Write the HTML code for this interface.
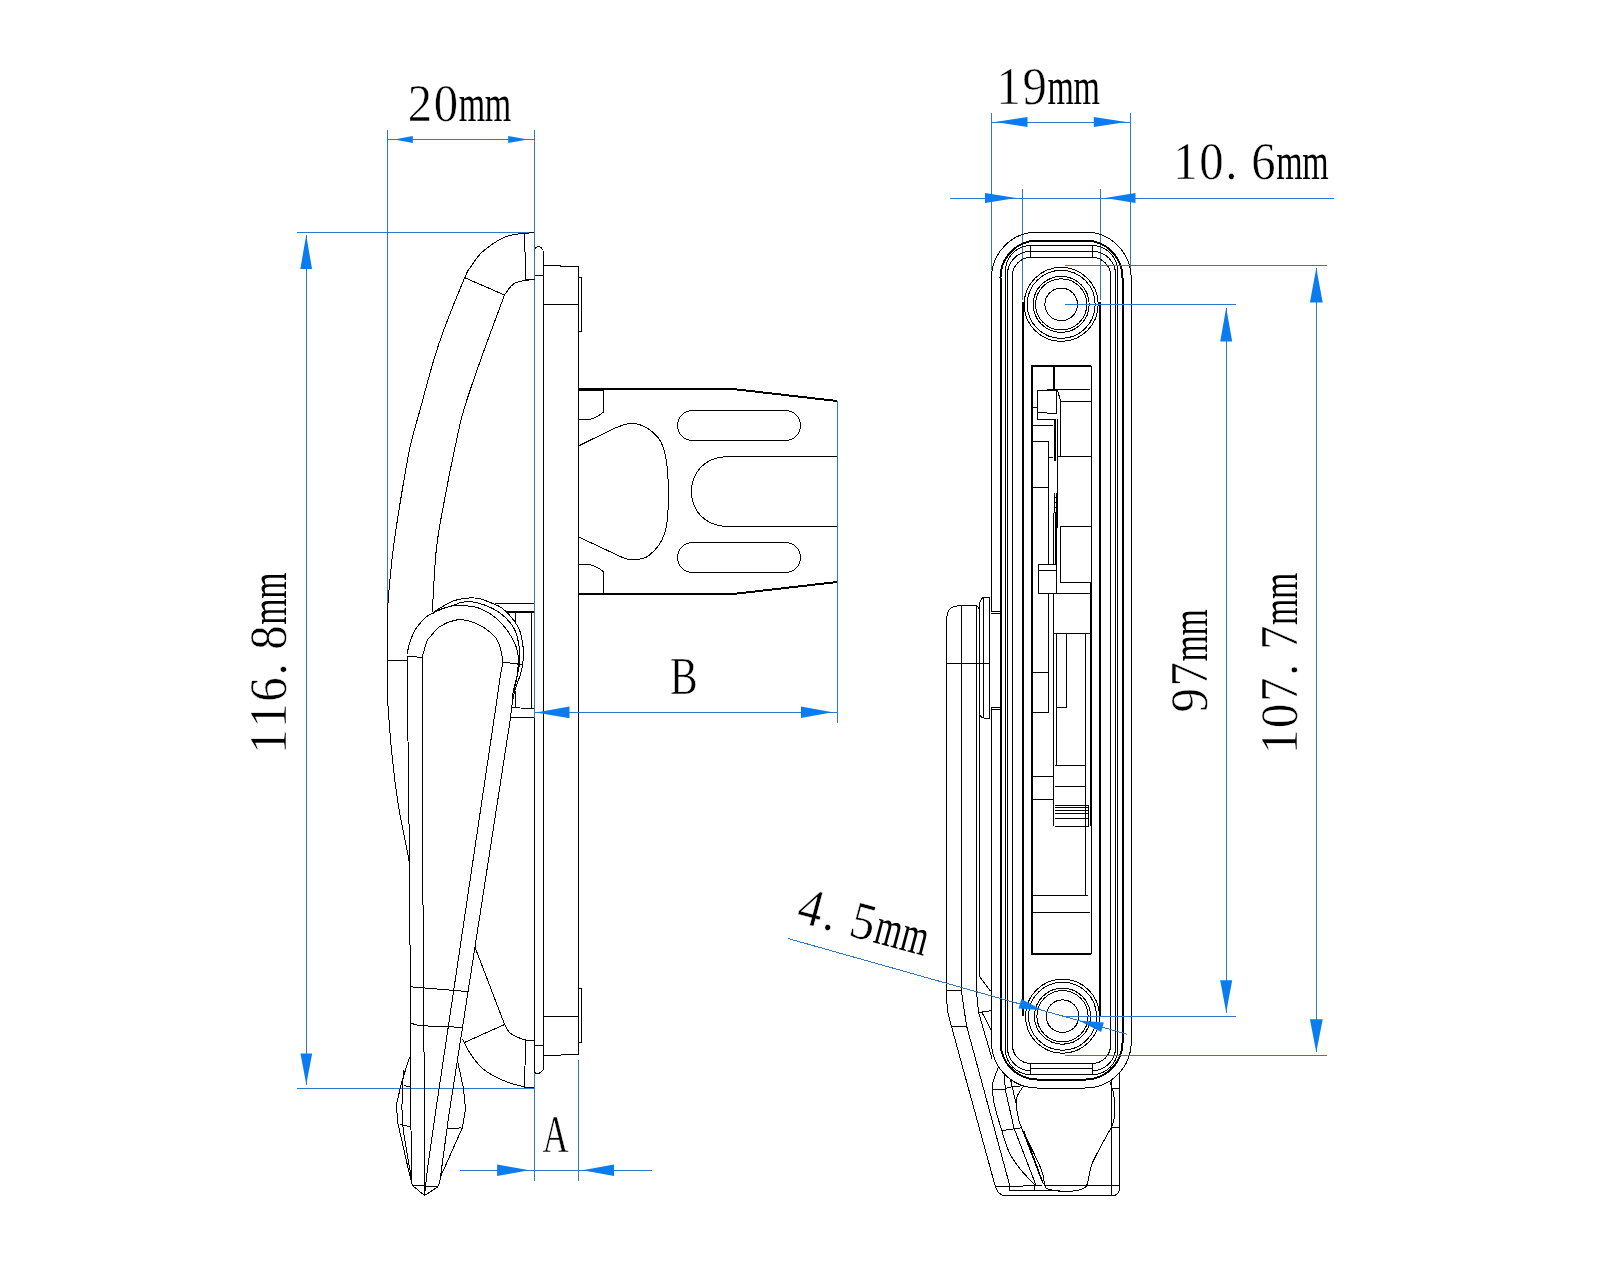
<!DOCTYPE html>
<html><head><meta charset="utf-8"><style>
html,body{margin:0;padding:0;background:#fff;width:1600px;height:1280px;overflow:hidden}
svg{display:block;will-change:transform}
.k,.kt,.b{shape-rendering:crispEdges}
.k{stroke:#000;stroke-width:1;fill:none}
.kt{stroke:#000;stroke-width:2;fill:none}
.b{stroke:#2b78cc;stroke-width:1;fill:none}
.af{fill:#0a7cf0;stroke:none}
text{font-family:"Liberation Serif",serif;font-size:53px;fill:#000;text-anchor:middle;stroke:#fff;stroke-width:0.5}
text.m{stroke-width:0}
</style></head><body>
<svg width="1600" height="1280" viewBox="0 0 1600 1280">
<line class="b" x1="387.5" y1="130" x2="387.5" y2="656"/>
<line class="b" x1="534.5" y1="130" x2="534.5" y2="718"/>
<line class="k" x1="534.5" y1="718" x2="534.5" y2="1072"/>
<line class="b" x1="534.5" y1="1072" x2="534.5" y2="1181"/>
<line class="b" x1="387.5" y1="139.5" x2="534.5" y2="139.5"/>
<polygon class="af" points="394,139.5 412.8,136.1 412.8,142.9"/>
<polygon class="af" points="528,139.5 508.2,142.9 508.2,136.1"/>
<g>
<text transform="translate(419.9,121) scale(0.92,1)">2</text>
<text transform="translate(445.9,121) scale(0.92,1)">0</text>
<text class="m" transform="translate(471.9,121) scale(0.64,1)">m</text>
<text class="m" transform="translate(497.9,121) scale(0.64,1)">m</text>
</g>
<line class="b" x1="297" y1="232.5" x2="534.5" y2="232.5"/>
<line class="b" x1="297" y1="1088.5" x2="534.5" y2="1088.5"/>
<line class="b" x1="306.5" y1="235" x2="306.5" y2="1084.5"/>
<polygon class="af" points="306.2,235.1 312.05,268.9 300.35,268.9"/>
<polygon class="af" points="306.3,1084.5 300.45,1053.5 312.15,1053.5"/>
<g transform="rotate(-90)">
<text transform="translate(-741.5,286) scale(0.92,1)">1</text>
<text transform="translate(-715.5,286) scale(0.92,1)">1</text>
<text transform="translate(-689.5,286) scale(0.92,1)">6</text>
<text transform="translate(-669.5,286) scale(0.92,1)">.</text>
<text transform="translate(-637.5,286) scale(0.92,1)">8</text>
<text class="m" transform="translate(-611.5,286) scale(0.64,1)">m</text>
<text class="m" transform="translate(-585.5,286) scale(0.64,1)">m</text>
</g>
<path class="k" d="M524.7,233.2 C521.33,233.88 511.62,234.07 504.5,237.25 C497.38,240.43 487.75,247.12 482,252.25 C476.25,257.38 472.88,263.76 470,268 C467.12,272.24 468.95,267.7 464.7,277.7 C460.45,287.7 449.66,314.28 444.5,328 C439.34,341.72 437.83,346.33 433.75,360 C429.67,373.67 423.96,395.42 420,410 C416.04,424.58 413.23,432.5 410,447.5 C406.77,462.5 403.38,483.12 400.6,500 C397.82,516.88 395.33,532.5 393.3,548.75 C391.27,565 389.35,585.86 388.4,597.5 C387.45,609.14 387.75,608.85 387.6,618.6 C387.45,628.35 387.5,642.43 387.5,656 C387.5,669.57 387.58,692.67 387.6,700"/>
<path class="k" d="M387.6,700 C388.25,708.33 389.85,733.33 391.5,750 C393.15,766.67 395.5,786.33 397.5,800 C399.5,813.67 401.48,821.4 403.5,832 C405.52,842.6 408.58,858.33 409.6,863.6"/>
<polyline class="k" points="524.5,233.5 534.5,232.5"/>
<line class="k" x1="524.7" y1="233.2" x2="525.5" y2="280"/>
<line class="k" x1="525.5" y1="280" x2="534.5" y2="279.3"/>
<path class="k" d="M534.5,279.3 C531.25,279.92 520,280.38 515,283 C510,285.62 506.25,293 504.5,295"/>
<path class="k" d="M504.5,295 C500.52,305.83 487.39,340.83 480.6,360 C473.81,379.17 468.02,395.42 463.75,410 C459.48,424.58 458.21,432.5 455,447.5 C451.79,462.5 447.6,483.12 444.5,500 C441.4,516.88 438.43,530.08 436.4,548.75 C434.37,567.42 432.98,601.46 432.3,612"/>
<line class="k" x1="464.7" y1="277.7" x2="504.5" y2="295"/>
<path class="k" d="M534.4,249.4 Q538.75,243 543.3,250.6"/>
<line class="k" x1="543.5" y1="250.6" x2="543.5" y2="1070"/>
<path class="k" d="M534.3,1072 Q538,1076 543.3,1070"/>
<line class="k" x1="534.5" y1="275.5" x2="543.5" y2="275.5"/>
<line class="k" x1="534.3" y1="1045.5" x2="543.3" y2="1045.5"/>
<polyline class="k" points="543.5,265.5 560.5,265.5 560.5,266.5 578.5,266.5 578.5,1054.5 543.5,1055.5"/>
<line class="k" x1="543.5" y1="304.5" x2="578.5" y2="304.5"/>
<line class="k" x1="543.5" y1="1016.5" x2="578.7" y2="1016.5"/>
<polyline class="k" points="578.5,277.5 581.5,277.5 581.5,331.5 578.5,331.5"/>
<polyline class="k" points="578.5,988.5 581.5,988.5 581.5,1042.5 578.5,1042.5"/>
<polyline class="kt" points="578,389 733,389 837,401"/>
<polyline class="kt" points="578,594 733,594 837,582"/>
<path class="k" d="M578.4,390.6 L603.4,390.6 L603.4,412.2 Q597,417.5 588.75,419.7 L578.4,419.7"/>
<path class="k" d="M578.4,564.4 L588.75,564.4 Q597,566.5 603.4,571.6 L603.4,593.7"/>
<line class="k" x1="578.4" y1="446" x2="615" y2="428"/>
<path class="k" d="M615,428 C617.82,427.23 626.07,423.07 631.9,423.4 C637.73,423.73 644.69,425.77 650,430 C655.31,434.23 660.68,438.5 663.75,448.75 C666.82,459 668.24,477.44 668.4,491.5 C668.56,505.56 667.98,522.42 664.7,533.1 C661.43,543.78 654.53,551.2 648.75,555.6 C642.97,560 635.62,559.77 630,559.5 C624.38,559.23 617.5,554.92 615,554"/>
<line class="k" x1="615" y1="554" x2="578.4" y2="536.9"/>
<rect class="k" x="677.5" y="410.5" width="123" height="30" rx="15" ry="15"/>
<rect class="k" x="677.5" y="542.5" width="123" height="30" rx="15" ry="15"/>
<path class="k" d="M837.2,456.6 L725.6,456.6 C703,458 691.5,474 691.5,491.5 C691.5,509 703,525 725.6,526.6 L837.2,526.6"/>
<line class="b" x1="837.5" y1="400.9" x2="837.5" y2="722.5"/>
<line class="b" x1="535" y1="712.5" x2="837.3" y2="712.5"/>
<polygon class="af" points="536,712.4 569.5,706.6 569.5,718.2"/>
<polygon class="af" points="832.5,712.3 801,718.1 801,706.5"/>
<g>
<text transform="translate(683.8,693.9) scale(0.78,1)">B</text>
</g>
<line class="b" x1="460" y1="1170.5" x2="651.8" y2="1170.5"/>
<line class="b" x1="578.5" y1="1059.6" x2="578.5" y2="1181"/>
<polygon class="af" points="529.4,1170.3 497.1,1176 497.1,1164.6"/>
<polygon class="af" points="582.4,1170.3 614,1164.6 614,1176"/>
<g>
<text transform="translate(555.6,1151.8) scale(0.68,1)">A</text>
</g>
<path class="k" d="M407,654 C407.5,652 408.67,646 410,642 C411.33,638 412.5,634 415,630 C417.5,626 422.17,620.75 425,618 C427.83,615.25 429.92,614.9 432,613.5 C434.08,612.1 434.18,611.6 437.5,609.6 C440.82,607.6 447.42,603.37 451.9,601.5 C456.38,599.63 460.03,598.92 464.4,598.4 C468.77,597.88 473.42,597.57 478.1,598.4 C482.78,599.23 488.43,601.73 492.5,603.4 C496.57,605.07 498.96,605.59 502.5,608.4 C506.04,611.21 510.83,616.4 513.75,620.25 C516.67,624.1 518.44,627.02 520,631.5 C521.56,635.98 522.53,642.93 523.1,647.1 C523.67,651.27 523.5,653.58 523.4,656.5 C523.3,659.42 522.97,661.68 522.5,664.6 C522.03,667.52 521.85,669.77 520.6,674 C519.35,678.23 516.43,684.83 515,690 C513.57,695.17 512.75,700.33 512,705 C511.25,709.67 510.75,715.83 510.5,718"/>
<line class="k" x1="510.5" y1="718" x2="486" y2="876"/>
<line class="k" x1="486" y1="876" x2="448.75" y2="1116"/>
<line class="k" x1="448.75" y1="1116" x2="440.6" y2="1176"/>
<path class="k" d="M432,614 C433,613.43 433.96,612.22 438,610.6 C442.04,608.98 452.17,605.72 456.25,604.3 C460.33,602.88 459.27,602.42 462.5,602.1 C465.73,601.78 470.6,601.35 475.6,602.4 C480.6,603.45 487.6,605.95 492.5,608.4 C497.4,610.85 501.35,613.67 505,617.1 C508.65,620.53 512.11,624.52 514.4,629 C516.69,633.48 517.82,639.1 518.75,644 C519.68,648.9 520,654.23 520,658.4 C520,662.57 519.75,664.07 518.75,669 C517.75,673.93 515.12,682.83 514,688 C512.88,693.17 512.33,698 512,700"/>
<path class="k" d="M440,609.5 C442.08,608.9 447.92,606.5 452.5,605.9 C457.08,605.3 462.71,605.38 467.5,605.9 C472.29,606.42 476.57,607.02 481.25,609 C485.93,610.98 491.12,614 495.6,617.75 C500.08,621.5 504.66,626.62 508.1,631.5 C511.54,636.38 514.58,642.83 516.25,647 C517.92,651.17 517.89,652 518.1,656.5 C518.31,661 518.18,668.42 517.5,674 C516.82,679.58 514.58,687.33 514,690"/>
<path class="k" d="M422.5,656 C423.25,653.5 425.75,644.17 427,641 C428.25,637.83 427.83,639.42 430,637 C432.17,634.58 435.83,629.29 440,626.5 C444.17,623.71 450.42,621.23 455,620.25 C459.58,619.27 462.82,619.46 467.5,620.6 C472.18,621.74 478.42,624.24 483.1,627.1 C487.78,629.96 492.68,634.1 495.6,637.75 C498.52,641.4 499.45,644.83 500.6,649 C501.75,653.17 502.5,658.58 502.5,662.75 C502.5,666.92 501.53,667.79 500.6,674 C499.67,680.21 497.52,695.67 496.9,700"/>
<line class="k" x1="496.9" y1="700" x2="435" y2="1116"/>
<line class="k" x1="435" y1="1116" x2="427.5" y2="1168.8"/>
<line class="k" x1="427.5" y1="1168.8" x2="424.5" y2="1195"/>
<line class="k" x1="407" y1="656" x2="422.5" y2="657.5"/>
<line class="k" x1="387.5" y1="660.5" x2="406.5" y2="660.5"/>
<line class="k" x1="502.5" y1="662" x2="521.9" y2="664.6"/>
<path class="k" d="M407,654 C407.08,661.67 407.07,663 407.5,700 C407.93,737 409.14,828.33 409.6,876 C410.06,923.67 410.13,955.83 410.25,986 C410.37,1016.17 410.29,1045.17 410.3,1057"/>
<line class="k" x1="422.5" y1="656" x2="422.5" y2="905"/>
<line class="k" x1="423.5" y1="905" x2="424.5" y2="1195"/>
<line class="k" x1="410.25" y1="986.75" x2="468" y2="991.6"/>
<path class="k" d="M411,1023.2 C412.5,1023.58 415.17,1024.95 420,1025.5 C424.83,1026.05 432.92,1026.2 440,1026.5 C447.08,1026.8 458.75,1027.17 462.5,1027.3"/>
<polyline class="k" points="409.5,1057.5 401.5,1082.5 396.5,1104.5 397.5,1121.5 409.5,1174.5 412.5,1185.5 424.5,1195.5 438.5,1186.5 441.5,1174.5 462.5,1127.5 465.5,1108.5 463.5,1088.5 457.5,1060.5"/>
<path class="k" d="M404,1070 C403.77,1072.6 402.83,1076.67 402.6,1085.6 C402.37,1094.53 401.2,1108.53 402.6,1123.6 C404,1138.67 409.6,1167.27 411,1176"/>
<line class="k" x1="410.3" y1="1057" x2="411.5" y2="1180.6"/>
<line class="k" x1="399.6" y1="1124.2" x2="411.5" y2="1127.2"/>
<line class="k" x1="447.7" y1="1129" x2="460.8" y2="1127.8"/>
<line class="k" x1="412" y1="1185.4" x2="438.2" y2="1186.6"/>
<line class="k" x1="404" y1="1085.5" x2="411" y2="1087"/>
<line class="k" x1="474.9" y1="947" x2="504.4" y2="1023.9"/>
<path class="k" d="M504.4,1023.9 C505.43,1025.5 507.27,1030.87 510.6,1033.5 C513.93,1036.13 520.5,1038.45 524.4,1039.7 C528.3,1040.95 532.4,1040.78 534,1041"/>
<line class="k" x1="464.6" y1="1042.4" x2="504.4" y2="1024.6"/>
<path class="k" d="M462.5,1039 C463.75,1041.33 466.79,1048.18 470,1053 C473.21,1057.82 477.27,1063.82 481.75,1067.9 C486.23,1071.98 492.19,1074.98 496.9,1077.5 C501.61,1080.02 505.42,1081.42 510,1083 C514.58,1084.58 522,1086.33 524.4,1087"/>
<line class="k" x1="525.75" y1="1040.4" x2="524.4" y2="1087"/>
<line class="k" x1="524.4" y1="1087" x2="534" y2="1088"/>
<line class="k" x1="495" y1="603.5" x2="534.4" y2="603.5"/>
<line class="k" x1="502.5" y1="608.4" x2="506.25" y2="612.4"/>
<line class="kt" x1="506.25" y1="612" x2="534.4" y2="612"/>
<line class="k" x1="515.5" y1="613" x2="515.5" y2="621.5"/>
<line class="k" x1="515.5" y1="690.5" x2="515.5" y2="707"/>
<line class="k" x1="531.5" y1="612" x2="531.5" y2="708.75"/>
<line class="k" x1="511" y1="707.5" x2="534.4" y2="708.75"/>
<line class="k" x1="510" y1="717.5" x2="534.4" y2="717.5"/>
<line class="b" x1="991.5" y1="112.5" x2="991.5" y2="270"/>
<line class="b" x1="1130.5" y1="112.5" x2="1130.5" y2="267.5"/>
<line class="b" x1="991.5" y1="122.5" x2="1130.5" y2="122.5"/>
<polygon class="af" points="995,122 1027.5,117 1027.5,127"/>
<polygon class="af" points="1126.3,122 1093.8,127 1093.8,117"/>
<g>
<text transform="translate(1008.6,103.7) scale(0.92,1)">1</text>
<text transform="translate(1034.6,103.7) scale(0.92,1)">9</text>
<text class="m" transform="translate(1060.6,103.7) scale(0.64,1)">m</text>
<text class="m" transform="translate(1086.6,103.7) scale(0.64,1)">m</text>
</g>
<line class="b" x1="1022.5" y1="188.7" x2="1022.5" y2="300"/>
<line class="b" x1="1100.5" y1="188.7" x2="1100.5" y2="300"/>
<line class="b" x1="949.5" y1="198.5" x2="1333.7" y2="198.5"/>
<polygon class="af" points="1016.3,198 985,203 985,193"/>
<polygon class="af" points="1105,198 1135.5,193 1135.5,203"/>
<g>
<text transform="translate(1185.4,179.3) scale(0.92,1)">1</text>
<text transform="translate(1211.4,179.3) scale(0.92,1)">0</text>
<text transform="translate(1231.4,179.3) scale(0.92,1)">.</text>
<text transform="translate(1263.4,179.3) scale(0.92,1)">6</text>
<text class="m" transform="translate(1289.4,179.3) scale(0.64,1)">m</text>
<text class="m" transform="translate(1315.4,179.3) scale(0.64,1)">m</text>
</g>
<path class="k" d="M991.5,612 L991.5,278 A46,46 0 0 1 1037.5,232 L1085.2,232 A46,46 0 0 1 1131.2,278 L1131.2,1042 A46,46 0 0 1 1085.2,1088 L1037.5,1088 A46,46 0 0 1 991.5,1042 L991.5,708"/>
<rect class="kt" x="1000.5" y="240.5" width="122" height="839" rx="37" ry="37"/>
<path class="k" d="M1030.6,245.6 A25.09999999999991,25.09999999999991 0 0 0 1005.5,270.69999999999993 L1005.5,1049.5 A25.09999999999991,25.09999999999991 0 0 0 1030.6,1074.6 M1092.5,245.6 A25.0,25.0 0 0 1 1117.5,270.6 L1117.5,1049.6 A25.0,25.0 0 0 1 1092.5,1074.6"/>
<path class="k" d="M1030.6,251.3 A23.09999999999991,23.09999999999991 0 0 0 1007.5,274.3999999999999 L1007.5,1047.6000000000001 A23.09999999999991,23.09999999999991 0 0 0 1030.6,1070.7 M1092.5,251.3 A23.0,23.0 0 0 1 1115.5,274.3 L1115.5,1047.7 A23.0,23.0 0 0 1 1092.5,1070.7"/>
<path class="k" d="M1030.6,257.5 A18.09999999999991,18.09999999999991 0 0 0 1012.5,275.5999999999999 L1012.5,1045.3000000000002 A18.09999999999991,18.09999999999991 0 0 0 1030.6,1063.4 M1092.5,257.5 A18.0,18.0 0 0 1 1110.5,275.5 L1110.5,1045.4 A18.0,18.0 0 0 1 1092.5,1063.4"/>
<line class="kt" x1="1023" y1="302" x2="1023" y2="1016"/>
<line class="kt" x1="1100" y1="302" x2="1100" y2="1016"/>
<polygon class="k" points="1030.5,245.5 1092.5,245.5 1092.5,257.5 1030.5,257.5"/>
<line class="k" x1="1030.6" y1="251.5" x2="1092.5" y2="251.5"/>
<polygon class="k" points="1030.5,1063.5 1092.5,1063.5 1092.5,1074.5 1030.5,1074.5"/>
<line class="k" x1="1030.9" y1="1068.5" x2="1092.2" y2="1068.5"/>
<circle class="k" cx="1061.2" cy="304.4" r="37"/>
<circle class="k" cx="1061.2" cy="304.4" r="34"/>
<circle class="k" cx="1061.2" cy="304.4" r="28"/>
<circle class="k" cx="1061.2" cy="304.4" r="25.6"/>
<circle class="k" cx="1061.2" cy="304.4" r="16.3"/>
<circle class="k" cx="1062.5" cy="1016.2" r="37"/>
<circle class="k" cx="1062.5" cy="1016.2" r="34"/>
<circle class="k" cx="1062.5" cy="1016.2" r="28"/>
<circle class="k" cx="1062.5" cy="1016.2" r="25.6"/>
<circle class="k" cx="1062.5" cy="1016.2" r="16.3"/>
<polyline class="kt" points="1091,954 1032,954 1032,366 1091,366"/>
<line class="k" x1="1091.5" y1="366" x2="1091.5" y2="953.7"/>
<line class="kt" x1="1054" y1="366" x2="1054" y2="389"/>
<line class="k" x1="1047" y1="389.5" x2="1089.5" y2="389.5"/>
<polygon class="k" points="1037.5,390.5 1056.5,390.5 1056.5,413.5 1037.5,412.5"/>
<polyline class="k" points="1037.5,412.5 1037.5,419.5 1054.5,419.5"/>
<line class="k" x1="1032" y1="407.5" x2="1037.8" y2="407.5"/>
<line class="k" x1="1032" y1="425.5" x2="1053" y2="425.5"/>
<polyline class="k" points="1032.5,441.5 1048.5,441.5 1048.5,563.5"/>
<line class="k" x1="1032" y1="487.5" x2="1048" y2="487.5"/>
<line class="k" x1="1048.5" y1="457.5" x2="1053" y2="457.5"/>
<polyline class="k" points="1057.5,390.5 1060.5,400.5 1060.5,456.5"/>
<line class="k" x1="1060" y1="401.5" x2="1091" y2="401.5"/>
<line class="k" x1="1058" y1="456.5" x2="1091" y2="456.5"/>
<line class="k" x1="1054.5" y1="419" x2="1054.5" y2="461"/>
<line class="k" x1="1055.5" y1="419" x2="1055.5" y2="461"/>
<line class="k" x1="1057.5" y1="419" x2="1057.5" y2="461"/>
<line class="k" x1="1053.5" y1="513" x2="1053.5" y2="564"/>
<line class="k" x1="1055.5" y1="513" x2="1055.5" y2="564"/>
<line class="k" x1="1056.5" y1="513" x2="1056.5" y2="564"/>
<line class="k" x1="1054.5" y1="493" x2="1054.5" y2="513"/>
<line class="k" x1="1056.5" y1="493" x2="1056.5" y2="513"/>
<line class="k" x1="1054" y1="497.5" x2="1057" y2="497.5"/>
<line class="k" x1="1054" y1="502.5" x2="1057" y2="502.5"/>
<line class="k" x1="1054" y1="507.5" x2="1057" y2="507.5"/>
<line class="k" x1="1054" y1="512.5" x2="1057" y2="512.5"/>
<line class="k" x1="1057.5" y1="456" x2="1057.5" y2="527.5"/>
<line class="k" x1="1060.5" y1="527" x2="1060.5" y2="582"/>
<line class="k" x1="1060" y1="526.5" x2="1091" y2="526.5"/>
<line class="k" x1="1060" y1="582.5" x2="1091" y2="582.5"/>
<polyline class="k" points="1038.5,564.5 1056.5,564.5 1056.5,593.5"/>
<line class="k" x1="1038" y1="570.5" x2="1056" y2="570.5"/>
<line class="k" x1="1038.5" y1="564" x2="1038.5" y2="593.5"/>
<line class="k" x1="1038" y1="593.5" x2="1090" y2="593.5"/>
<line class="k" x1="1048.5" y1="593" x2="1048.5" y2="712.5"/>
<line class="k" x1="1032" y1="672.5" x2="1048.75" y2="672.5"/>
<line class="k" x1="1032" y1="712.5" x2="1048.75" y2="712.5"/>
<line class="k" x1="1053.5" y1="593.5" x2="1053.5" y2="826"/>
<line class="k" x1="1032" y1="776.5" x2="1053.75" y2="776.5"/>
<line class="k" x1="1032" y1="799.5" x2="1053.75" y2="799.5"/>
<line class="k" x1="1054" y1="633.5" x2="1090" y2="633.5"/>
<line class="k" x1="1056.5" y1="633.75" x2="1056.5" y2="765"/>
<line class="k" x1="1066.5" y1="633.75" x2="1066.5" y2="707.5"/>
<line class="k" x1="1056.25" y1="707.5" x2="1066.25" y2="707.5"/>
<line class="k" x1="1085.5" y1="633.75" x2="1085.5" y2="895"/>
<line class="k" x1="1055" y1="765.5" x2="1085" y2="765.5"/>
<line class="k" x1="1055" y1="786.5" x2="1085" y2="786.5"/>
<line class="k" x1="1055" y1="805.5" x2="1088.75" y2="805.5"/>
<line class="k" x1="1055" y1="807.5" x2="1088.75" y2="807.5"/>
<line class="k" x1="1055" y1="810.5" x2="1088.75" y2="810.5"/>
<line class="k" x1="1055" y1="813.5" x2="1088.75" y2="813.5"/>
<line class="k" x1="1055" y1="818.5" x2="1088.75" y2="818.5"/>
<line class="k" x1="1055" y1="826.5" x2="1088.75" y2="826.5"/>
<line class="k" x1="1088.5" y1="805" x2="1088.5" y2="826.25"/>
<line class="k" x1="1090.5" y1="582.5" x2="1090.5" y2="826"/>
<line class="k" x1="1032" y1="895.5" x2="1087.5" y2="895.5"/>
<line class="k" x1="1032" y1="912.5" x2="1090" y2="912.5"/>
<path class="k" d="M946.6,990 L946.6,619.5 Q947,606 957.9,605.9 L976.5,605.9 Q978.5,606.5 979.2,609"/>
<line class="k" x1="961.5" y1="605.9" x2="961.5" y2="991"/>
<line class="k" x1="976.5" y1="605.9" x2="976.5" y2="992.5"/>
<line class="k" x1="979.5" y1="609" x2="979.5" y2="976"/>
<path class="k" d="M979.2,609 Q979.5,598 983.6,597.4 L989.6,597.4 L989.6,718 L983.6,718 Q980,717 979.2,713"/>
<line class="k" x1="983.5" y1="597.4" x2="983.5" y2="718"/>
<line class="k" x1="946.6" y1="663.5" x2="989.6" y2="663.5"/>
<polyline class="k" points="990.5,613.5 1000.5,613.5"/>
<polyline class="k" points="990.5,707.5 1000.5,707.5"/>
<line class="k" x1="991.25" y1="611.5" x2="1000" y2="611.5"/>
<line class="k" x1="991.25" y1="709.5" x2="1000" y2="709.5"/>
<path class="k" d="M946.6,990 C946.75,993.33 946.68,1003.92 947.5,1010 C948.32,1016.08 950.83,1023.75 951.5,1026.5"/>
<line class="k" x1="951.5" y1="1026.5" x2="994.8" y2="1184.7"/>
<path class="k" d="M994.8,1184.7 C995.25,1185.8 996.13,1189.47 997.5,1191.3 C998.87,1193.13 1002.08,1194.97 1003,1195.7"/>
<line class="k" x1="961.4" y1="991" x2="966.5" y2="1025.6"/>
<line class="k" x1="966.5" y1="1025.6" x2="1009.5" y2="1184.7"/>
<line class="k" x1="946.6" y1="990.5" x2="961.4" y2="990.5"/>
<line class="k" x1="951.5" y1="1027" x2="966.5" y2="1026"/>
<line class="k" x1="976.5" y1="992.5" x2="978.6" y2="1012.5"/>
<line class="k" x1="978.6" y1="1012.5" x2="992.2" y2="1059.3"/>
<line class="k" x1="979.2" y1="976" x2="990.4" y2="991"/>
<line class="k" x1="978.6" y1="1012.5" x2="991.8" y2="1010.6"/>
<line class="k" x1="982" y1="1012.5" x2="991.3" y2="1030.3"/>
<path class="k" d="M998.6,1066.6 C997.67,1069.17 994,1078.18 993,1082 C992,1085.82 992.4,1085.87 992.6,1089.5 C992.8,1093.13 992.65,1096.88 994.2,1103.8 C995.75,1110.72 999.35,1122.8 1001.9,1131 C1004.45,1139.2 1006.4,1146.6 1009.5,1153 C1012.6,1159.4 1016.3,1164.12 1020.5,1169.4 C1024.7,1174.68 1032.33,1182.15 1034.7,1184.7"/>
<line class="k" x1="992.6" y1="1089.5" x2="1005.2" y2="1089.5"/>
<line class="k" x1="1004.6" y1="1075.3" x2="1005.2" y2="1089"/>
<line class="k" x1="1005.2" y1="1089" x2="1013.9" y2="1127.8"/>
<line class="k" x1="1013.9" y1="1127.8" x2="1035.8" y2="1184.7"/>
<line class="k" x1="1010.6" y1="1079.7" x2="1016.1" y2="1103.8"/>
<path class="k" d="M1005.2,1089 C1006.1,1088.67 1007.5,1087.55 1010.6,1087 C1013.7,1086.45 1021.6,1085.92 1023.8,1085.7"/>
<path class="k" d="M1023.8,1085.7 C1022.7,1087.42 1018.48,1092.98 1017.2,1096 C1015.92,1099.02 1015.92,1100.3 1016.1,1103.8 C1016.28,1107.3 1017.38,1113 1018.3,1117 C1019.22,1121 1017.77,1119.07 1021.6,1127.8 C1025.43,1136.53 1037.47,1159.92 1041.3,1169.4 C1045.13,1178.88 1043.52,1181.43 1044.6,1184.7 C1045.68,1187.97 1045.25,1187.9 1047.8,1189 C1050.35,1190.1 1057.88,1190.92 1059.9,1191.3"/>
<line class="k" x1="1021.6" y1="1127.8" x2="1042.3" y2="1182"/>
<line class="k" x1="1023.8" y1="1131" x2="1043.5" y2="1184"/>
<line class="k" x1="1001.9" y1="1130.6" x2="1021.6" y2="1127.8"/>
<line class="k" x1="995.3" y1="1187" x2="1042.4" y2="1185.3"/>
<line class="k" x1="1009.5" y1="1190.5" x2="1060" y2="1190.5"/>
<line class="k" x1="1009.5" y1="1184.7" x2="1009.5" y2="1191"/>
<line class="k" x1="1034.5" y1="1184.7" x2="1034.5" y2="1191"/>
<line class="k" x1="1119.5" y1="1073" x2="1119.5" y2="1188"/>
<path class="k" d="M1119.5,1188 Q1119.5,1195.3 1112.4,1195.7 L1003,1195.7"/>
<line class="k" x1="1111.5" y1="1080" x2="1111.5" y2="1195.7"/>
<line class="k" x1="1044.6" y1="1185.5" x2="1119.5" y2="1185.5"/>
<path class="k" d="M1059.9,1191.3 C1062.63,1191.2 1072.12,1191.33 1076.3,1190.7 C1080.48,1190.07 1083.1,1188.87 1085,1187.5 C1086.9,1186.13 1086.6,1186.25 1087.7,1182.5 C1088.8,1178.75 1089.32,1171.2 1091.6,1165 C1093.88,1158.8 1097.85,1152.22 1101.4,1145.3 C1104.95,1138.38 1110.7,1129.52 1112.9,1123.5 C1115.1,1117.48 1114.5,1114.32 1114.6,1109.2 C1114.7,1104.08 1114.33,1097.45 1113.5,1092.8 C1112.67,1088.15 1110.25,1083.22 1109.6,1081.3"/>
<line class="k" x1="1111.3" y1="1088.5" x2="1119.5" y2="1088.5"/>
<line class="k" x1="1112" y1="1127.5" x2="1119.5" y2="1127.5"/>
<line class="b" x1="1065" y1="265.5" x2="1326.5" y2="265.5"/>
<line class="b" x1="1065" y1="304.5" x2="1235.7" y2="304.5"/>
<line class="b" x1="1062.5" y1="1016.5" x2="1235.7" y2="1016.5"/>
<line class="b" x1="1065" y1="1055.5" x2="1326.5" y2="1055.5"/>
<line class="b" x1="1226.5" y1="307.7" x2="1226.5" y2="1012.5"/>
<line class="b" x1="1316.5" y1="268" x2="1316.5" y2="1052.2"/>
<polygon class="af" points="1226.2,307.7 1232.2,341.5 1220.2,341.5"/>
<polygon class="af" points="1226.2,1012.5 1220.2,980.2 1232.2,980.2"/>
<polygon class="af" points="1316.3,268 1322.7,302.5 1309.9,302.5"/>
<polygon class="af" points="1316.3,1052.2 1309.9,1019.2 1322.7,1019.2"/>
<g transform="rotate(-90)">
<text transform="translate(-700.3,1207) scale(0.92,1)">9</text>
<text transform="translate(-674.3,1207) scale(0.92,1)">7</text>
<text class="m" transform="translate(-648.3,1207) scale(0.64,1)">m</text>
<text class="m" transform="translate(-622.3,1207) scale(0.64,1)">m</text>
</g>
<g transform="rotate(-90)">
<text transform="translate(-741.8,1297) scale(0.92,1)">1</text>
<text transform="translate(-715.8,1297) scale(0.92,1)">0</text>
<text transform="translate(-689.8,1297) scale(0.92,1)">7</text>
<text transform="translate(-669.8,1297) scale(0.92,1)">.</text>
<text transform="translate(-637.8,1297) scale(0.92,1)">7</text>
<text class="m" transform="translate(-611.8,1297) scale(0.64,1)">m</text>
<text class="m" transform="translate(-585.8,1297) scale(0.64,1)">m</text>
</g>
<line class="b" x1="787.6" y1="938.4" x2="1127" y2="1034.2"/>
<polygon class="af" points="1042.5,1010.2 1018.63,1008.61 1021.37,998.99"/>
<polygon class="af" points="1078.8,1020.5 1103.86,1022.39 1101.14,1032.01"/>
<g transform="translate(811.3,907.5) rotate(15) translate(0,17.5)">
<text transform="translate(0,0) scale(0.92,1)">4</text>
<text transform="translate(21,0) scale(0.92,1)">.</text>
<text transform="translate(54,0) scale(0.92,1)">5</text>
<text class="m" transform="translate(81,0) scale(0.64,1)">m</text>
<text class="m" transform="translate(108,0) scale(0.64,1)">m</text>
</g>
</svg>
</body></html>
